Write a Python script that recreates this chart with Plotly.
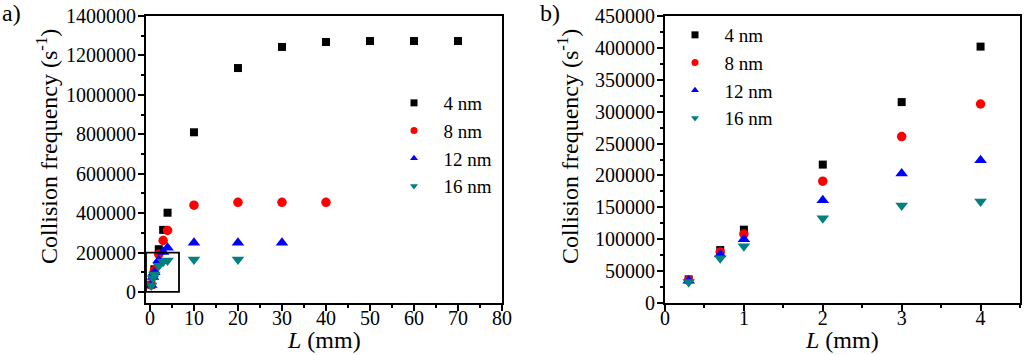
import plotly.graph_objects as go

# ---- data ----
L_a_4 = [0.3, 0.7, 1, 2, 3, 4, 10, 20, 30, 40, 50, 60, 70]
f_a_4 = [37000, 83000, 115000, 217000, 315000, 402000, 810000, 1136000, 1243000, 1268000, 1273000, 1273000, 1273000]
L_a_8 = [0.3, 0.7, 1, 2, 3, 4, 10, 20, 30, 40]
f_a_8 = [36000, 80000, 108000, 191000, 261000, 312000, 440000, 455000, 455000, 455000]
L_a_12 = [0.3, 0.7, 1, 2, 3, 4, 10, 20, 30]
f_a_12 = [35000, 76000, 100000, 161000, 203000, 224000, 250000, 250000, 250000]
L_a_16 = [0.3, 0.7, 1, 2, 3, 4, 10, 20]
f_a_16 = [33000, 70000, 89000, 133000, 153000, 159000, 165000, 165000]

L_b = [0.3, 0.7, 1, 2, 3, 4]
f_b_4 = [37000, 83000, 115000, 217000, 315000, 402000]
f_b_8 = [36000, 80000, 108000, 191000, 261000, 312000]
f_b_12 = [35000, 76000, 100000, 161000, 203000, 224000]
f_b_16 = [33000, 70000, 89000, 133000, 153000, 159000]

names = ["4 nm", "8 nm", "12 nm", "16 nm"]
colors = ["#000000", "#ff0000", "#0000ff", "#008080"]
symbols = ["square", "circle", "triangle-up", "triangle-down"]
sizes = [8, 9.5, 11, 11]

FONT = "Liberation Serif"
fig = go.Figure()

series_a = [(L_a_4, f_a_4), (L_a_8, f_a_8), (L_a_12, f_a_12), (L_a_16, f_a_16)]
series_b = [(L_b, f_b_4), (L_b, f_b_8), (L_b, f_b_12), (L_b, f_b_16)]

for i, (xs, ys) in enumerate(series_a):
    fig.add_trace(go.Scatter(x=xs, y=ys, mode="markers", xaxis="x", yaxis="y",
                             marker=dict(symbol=symbols[i], color=colors[i], size=sizes[i], line=dict(width=0)),
                             showlegend=False))
for i, (xs, ys) in enumerate(series_b):
    fig.add_trace(go.Scatter(x=xs, y=ys, mode="markers", xaxis="x2", yaxis="y2",
                             marker=dict(symbol=symbols[i], color=colors[i], size=sizes[i], line=dict(width=0)),
                             showlegend=False))
# legend entries (smaller symbols as in the reference)
for lg, xa, ya in [("legend", "x", "y"), ("legend2", "x2", "y2")]:
    for i in range(4):
        fig.add_trace(go.Scatter(x=[None], y=[None], mode="markers", xaxis=xa, yaxis=ya,
                                 marker=dict(symbol=symbols[i], color=colors[i], size=7, line=dict(width=0)),
                                 name="\u00a0\u00a0" + names[i], legend=lg, showlegend=True))

ydom = [52 / 355, 339 / 355]
axis_common = dict(showline=True, linecolor="black", linewidth=2, mirror=True, ticks="outside",
                   ticklen=6, tickwidth=2, tickcolor="black", showgrid=False, zeroline=False,
                   tickformat="d", tickfont=dict(family=FONT, size=20, color="black"),
                   automargin=False)
minor_common = dict(ticks="outside", ticklen=3, tickwidth=2, tickcolor="black")

fig.update_layout(
    width=1024, height=355, margin=dict(l=0, r=0, t=0, b=0),
    paper_bgcolor="white", plot_bgcolor="white",
    font=dict(family=FONT, color="black"),
    xaxis=dict(domain=[146 / 1024, 502 / 1024], range=[-0.9, 80], dtick=10, tick0=0,
               minor=dict(dtick=5, **minor_common), anchor="y", ticklabelstandoff=-10, **axis_common),
    yaxis=dict(domain=ydom, range=[-56000, 1400000], dtick=200000, tick0=0,
               minor=dict(dtick=100000, **minor_common), anchor="x", ticklabelstandoff=-2, **axis_common),
    xaxis2=dict(domain=[665 / 1024, 1020 / 1024], range=[0, 4.5], dtick=1, tick0=0,
                minor=dict(dtick=0.5, **minor_common), anchor="y2", ticklabelstandoff=-10, **axis_common),
    yaxis2=dict(domain=ydom, range=[0, 450000], dtick=50000, tick0=0,
                minor=dict(dtick=25000, **minor_common), anchor="x2", ticklabelstandoff=-2, **axis_common),
    legend=dict(x=394 / 1024, y=1 - 84 / 355, xanchor="left", yanchor="top",
                font=dict(family=FONT, size=19, color="black"), bgcolor="rgba(0,0,0,0)",
                tracegroupgap=0, itemsizing="trace"),
    legend2=dict(x=675 / 1024, y=1 - 16 / 355, xanchor="left", yanchor="top",
                 font=dict(family=FONT, size=19, color="black"), bgcolor="rgba(0,0,0,0)",
                 tracegroupgap=0, itemsizing="trace"),
    shapes=[dict(type="rect", xref="x", yref="y", x0=-0.9, x1=6.6, y0=0, y1=200000,
                 line=dict(color="black", width=1.8))],
    annotations=[
        dict(text="a)", x=0, y=1 - 13 / 355, xref="paper", yref="paper", xanchor="left", yanchor="middle",
             showarrow=False, font=dict(family=FONT, size=24, color="black")),
        dict(text="b)", x=538 / 1024, y=1 - 13 / 355, xref="paper", yref="paper", xanchor="left", yanchor="middle",
             showarrow=False, font=dict(family=FONT, size=24, color="black")),
        dict(text="Collision frequency (s<sup>-1</sup>)", x=47 / 1024, y=1 - 147 / 355,
             xref="paper", yref="paper", textangle=-90, showarrow=False,
             xanchor="center", yanchor="middle",
             font=dict(family=FONT, size=24, color="black")),
        dict(text="Collision frequency (s<sup>-1</sup>)", x=568 / 1024, y=1 - 147 / 355,
             xref="paper", yref="paper", textangle=-90, showarrow=False,
             xanchor="center", yanchor="middle",
             font=dict(family=FONT, size=24, color="black")),
        dict(text="<i>L</i> (mm)", x=324 / 1024, y=1 - 340 / 355,
             xref="paper", yref="paper", showarrow=False, xanchor="center", yanchor="middle",
             font=dict(family=FONT, size=24, color="black")),
        dict(text="<i>L</i> (mm)", x=842 / 1024, y=1 - 340 / 355,
             xref="paper", yref="paper", showarrow=False, xanchor="center", yanchor="middle",
             font=dict(family=FONT, size=24, color="black")),
    ],
)

fig.write_html("out.html", config={"displayModeBar": False},
               post_script="document.body.style.margin='0px';document.body.style.overflow='hidden';")
